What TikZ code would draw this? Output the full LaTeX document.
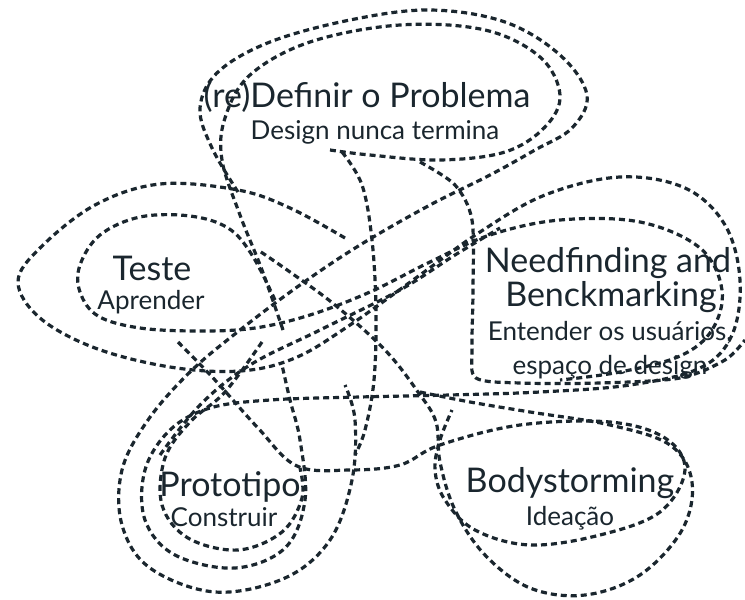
\documentclass[tikz,border=0pt]{standalone}
\usepackage{fontspec}
\setmainfont{Lato}
\definecolor{ink}{RGB}{26,38,46}
\begin{document}
\begin{tikzpicture}[x=1pt,y=-1pt,
  loop/.style={draw=ink, line width=3.2pt, dash pattern=on 6pt off 4pt},
  big/.style={text=ink, font=\fontsize{34}{38}\selectfont, inner sep=0pt},
  small/.style={text=ink, font=\fontsize{26}{30}\selectfont, inner sep=0pt}]
\fill[white] (0,0) rectangle (745,600);
\useasboundingbox (0,0) rectangle (745,600);

% problem loop, outer, running down through the centre into the prototype loop
\draw[loop] plot[smooth, tension=0.6] coordinates {(238,192) (212,148) (200,108) (218,72) (270,42) (350,20) (430,10) (505,22) (560,55) (587,95) (572,128) (535,150) (490,175) (430,205) (360,245) (300,285) (240,330) (190,372) (148,420) (122,470) (122,525) (150,568) (215,592) (285,578) (330,540) (352,480) (355,420) (345,385)};
% problem loop, inner
\draw[loop] plot[smooth, tension=0.6] coordinates {(283,330) (262,270) (240,215) (222,160) (225,118) (250,75) (310,42) (400,25) (485,30) (540,57) (560,95) (545,127) (505,152) (440,160) (370,155) (330,150)};
% stroke from the subtitle down the middle
\draw[loop] plot[smooth, tension=0.6] coordinates {(342,152) (362,185) (372,240) (376,310) (374,380) (365,430) (355,455)};
% test loop, outer, on to the needfinding loop and back to the prototype loop
\draw[loop] plot[smooth, tension=0.6] coordinates {(345,238) (290,208) (238,190) (160,184) (95,205) (40,248) (18,282) (40,318) (95,348) (170,367) (240,371) (295,358) (350,325) (420,275) (480,232) (545,195) (620,177) (685,188) (725,225) (740,280) (732,335) (700,368) (630,385) (540,392) (450,395) (360,397) (270,400) (210,408) (170,430) (145,470) (145,520) (175,555) (235,568) (285,548) (305,500) (300,440) (290,400) (282,365)};
% test loop, inner, on to the needfinding loop
\draw[loop] plot[smooth, tension=0.6] coordinates {(275,300) (252,255) (228,228) (190,216) (140,217) (100,235) (80,265) (80,292) (98,316) (140,328) (200,331) (255,328) (310,315) (370,292) (430,262) (490,235) (560,220) (640,222) (700,248) (722,290) (712,330) (680,356) (620,372) (560,380)};
% needfinding frame
\draw[loop] plot[smooth, tension=0.5] coordinates {(420,162) (455,185) (472,220) (473,290) (472,350) (476,378) (520,383) (600,383) (680,378) (725,360) (745,340)};
% prototype to bodystorming, inner
\draw[loop] plot[smooth, tension=0.6] coordinates {(178,342) (215,380) (258,428) (297,466) (350,470) (400,465) (440,445) (520,425) (610,422) (665,438) (685,470) (660,512) (600,535) (530,545) (475,530) (445,500) (435,470) (440,440) (452,410)};
% bodystorming, outer, back up to the centre
\draw[loop] plot[smooth, tension=0.6] coordinates {(420,392) (470,402) (530,412) (610,425) (670,445) (692,482) (682,530) (640,575) (585,595) (530,588) (485,555) (455,510) (440,462) (436,422) (418,392) (385,350) (335,305) (290,272) (258,250)};
% diagonal from the prototype loop up to the needfinding loop
\draw[loop] plot[smooth, tension=0.6] coordinates {(160,455) (200,405) (250,365) (320,330) (400,290) (455,255) (500,228)};
% innermost prototype loop
\draw[loop] plot[smooth, tension=0.6] coordinates {(262,342) (225,392) (190,422) (165,458) (162,505) (188,538) (238,550) (282,532) (302,498) (300,468)};

\node[big]   (p1) at (367,97)  {(re)Definir o Problema};
\node[small] (p2) at (375,132) {Design nunca termina};
\node[big]   (t1) at (152,268) {Teste};
\node[small] (t2) at (151,302) {Aprender};
\node[big]   (n1) at (608,263) {Needfinding and};
\node[big]   (n2) at (611,297) {Benckmarking};
\node[small] (n3) at (610,333) {Entender os usuários,};
\node[small] (n4) at (610,367) {espaço de design};
\node[big]   (r1) at (230,487) {Prototipo};
\node[small] (r2) at (224,517) {Construir};
\node[big]   (b1) at (570,483) {Bodystorming};
\node[small] (b2) at (570,518) {Ideação};
\end{tikzpicture}
\end{document}
